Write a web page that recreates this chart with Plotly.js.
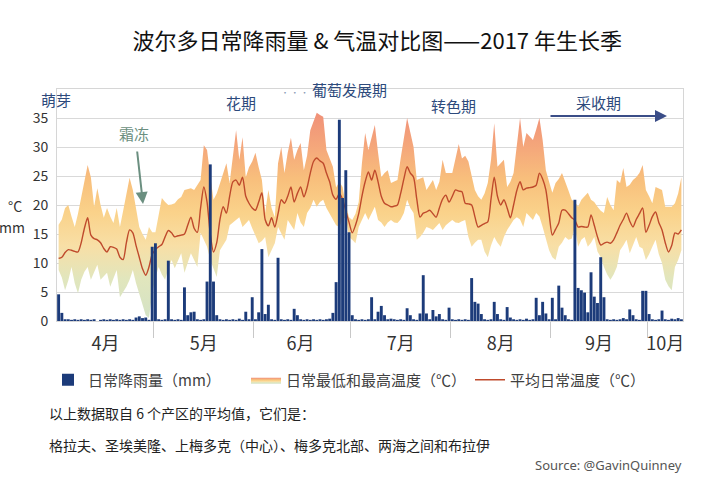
<!DOCTYPE html>
<html><head><meta charset="utf-8">
<script src="https://cdn.plot.ly/plotly-3.0.1.min.js"></script>
<style>html,body{margin:0;padding:0;background:#fff}#chart{width:720px;height:480px}</style>
</head><body><div id="chart"></div>
<script>
// ---- data (2017 growing season, Apr 1 – Oct 11, one value per day) ----
const monthLabels = ['4月','5月','6月','7月','8月','9月','10月'];
const monthMidDays = [14.5, 45, 75, 106, 137, 167.5, 188];
const monthStartDays = [30, 61, 91, 122, 153, 183];
const yTickVals = [0, 5, 10, 15, 20, 25, 30, 35];

const rain = [
4.6,1.4,0.3,0.3,0.2,0.3,0.2,0.3,0.2,0.3,
0.2,0.3,0,0.2,0.3,0.2,0.3,0.2,0.3,0.2,
0.3,0.2,0.3,0.2,0.6,0.8,0.5,0.6,0.2,12.8,
13.4,0.3,0.2,0.3,10.4,0.3,0.2,0.3,0.2,5.8,
1.0,1.5,1.6,0.3,0.2,0.3,6.8,27.0,6.8,1.0,
0.3,0.2,0.3,0.2,0.3,0.2,0.4,0.2,1.6,0.3,
4.1,0.3,1.5,12.4,1.2,2.8,0.3,0.2,10.9,0.3,
0.2,0.3,0.2,2.1,1.0,0.3,0.2,0.3,0.2,0.3,
0.2,0.3,0.2,0.3,0.4,1.4,6.7,34.7,21.2,26.0,
15.3,1.0,0.3,0.2,0.3,0.2,0.3,4.1,0.3,1.6,
2.6,1.0,0.3,0.4,0.3,0.2,0.3,0.2,2.2,1.0,
0.3,0.2,1.3,7.9,1.3,0.3,1.9,0.8,1.2,0.3,
0.2,2.3,0.3,0.2,0.3,0.2,0.3,0.2,7.4,3.3,
3.0,1.2,0.3,0.2,0.3,3.3,1.2,0.3,0.2,2.4,
0.6,0.3,0.2,0.3,0.2,0.4,0.2,0.3,4.0,1.0,
3.3,1.3,0.3,4.0,0.3,6.1,2.3,1.0,0.3,0.2,
20.9,5.7,5.3,4.9,1.5,8.4,4.2,3.1,11.0,4.1,
0.3,0.2,0.3,0.2,0.3,0.5,0.3,2.0,1.0,0.3,
0.2,5.2,5.2,1.2,0.3,0.2,0.3,1.8,0.3,0.2,
0.4,0.3,0.5,0.3];

const tMin = [
8.8,7.5,5.3,7.0,9.3,6.5,4.8,7.1,8.5,9.3,
7.1,8.5,9.7,7.1,7.8,8.3,5.9,7.5,8.8,4.1,
5.0,5.9,7.1,8.8,6.5,4.8,3.0,1.0,0.5,4.8,
7.5,9.3,8.0,7.1,9.0,10.5,9.1,10.5,11.7,8.3,
10.0,11.7,10.5,9.3,15.2,14.0,12.8,10.5,9.0,7.6,
12.2,13.0,14.0,16.5,17.0,17.5,17.9,16.2,16.8,17.4,
16.0,14.8,13.4,13.8,14.5,11.0,12.2,13.4,16.2,15.0,
14.0,17.4,16.5,15.7,18.6,17.0,16.2,18.6,19.5,20.9,
19.7,20.5,20.9,19.5,18.5,17.4,16.5,16.2,17.5,17.9,
14.5,14.0,13.4,16.2,17.5,18.6,17.4,18.5,19.7,17.4,
17.0,16.2,17.0,17.4,17.0,16.9,17.5,18.6,20.9,19.5,
18.6,14.0,14.5,15.2,16.2,16.0,15.7,16.3,16.9,15.7,
16.5,17.0,17.4,17.0,16.9,17.2,17.4,14.5,12.8,13.5,
14.0,14.0,12.0,11.0,13.0,14.5,13.5,12.8,14.5,15.7,
16.5,17.4,17.9,17.5,16.2,18.6,18.0,17.4,18.6,18.0,
16.2,14.0,12.2,11.0,10.5,12.8,13.5,14.5,14.0,14.2,
16.2,12.8,14.0,14.5,12.8,13.5,14.5,12.0,11.0,9.3,
8.0,7.1,8.0,9.3,12.2,13.0,14.0,11.7,13.0,14.5,
12.8,12.5,10.5,11.5,12.8,14.0,11.5,10.0,7.1,6.0,
5.3,9.3,10.5,12.2];

const tMax = [
16.6,17.5,19.5,20.0,18.0,16.2,18.5,21.4,24.5,26.9,
24.8,19.7,22.9,20.0,17.8,19.5,18.0,16.9,19.5,16.2,
19.0,22.0,24.7,22.6,19.0,16.2,15.0,14.0,16.2,15.3,
15.3,18.5,21.2,20.5,20.0,20.1,20.3,21.0,21.4,22.6,
22.8,22.9,22.6,23.5,24.3,30.3,29.5,25.0,20.9,22.0,
23.8,25.5,27.2,23.8,28.0,32.9,27.8,31.7,24.8,26.5,
27.5,29.0,26.5,24.3,18.6,22.6,19.5,17.9,27.2,30.0,
25.5,29.0,31.6,27.8,29.5,30.7,26.0,28.5,32.9,34.5,
35.9,35.5,35.2,29.5,28.0,26.6,23.0,24.0,23.1,20.0,
17.9,17.4,18.5,20.5,27.2,32.4,29.5,31.5,33.8,29.0,
24.8,25.5,26.0,23.8,24.0,24.3,28.0,31.2,35.0,32.5,
30.0,24.3,24.5,24.8,22.6,23.5,24.3,22.6,24.0,27.8,
25.5,25.5,25.5,28.0,30.5,28.0,28.5,27.5,25.0,22.6,
21.5,20.9,22.0,23.8,27.8,34.1,26.6,27.2,27.8,23.1,
24.0,25.5,30.0,35.0,30.0,32.4,31.8,31.2,33.0,35.0,
31.2,26.0,24.0,22.1,23.8,24.5,25.5,23.8,22.5,20.9,
20.5,19.7,20.9,21.5,22.1,20.9,20.5,19.7,19.0,18.6,
21.4,20.0,19.1,24.3,23.8,26.4,23.1,23.5,24.3,24.8,
25.5,26.9,22.6,21.5,20.3,23.1,22.8,22.6,19.7,19.7,
19.7,20.3,22.0,24.8];

const tAvg = [
10.8,11.0,11.8,12.3,12.2,12.0,11.9,13.5,16.0,17.8,
14.8,14.2,14.0,13.5,12.5,11.9,12.8,12.7,12.4,11.0,
10.6,13.5,15.7,15.2,13.0,11.0,9.0,7.9,9.3,11.5,
12.3,12.8,13.2,14.5,15.6,15.2,14.5,14.7,14.8,15.0,
16.5,17.9,16.0,15.3,19.5,23.1,20.5,15.0,11.9,13.5,
17.5,19.7,18.6,21.5,24.0,24.3,23.4,24.8,21.5,20.3,
19.5,19.1,20.5,22.1,17.5,16.4,17.8,16.2,18.5,20.9,
20.3,21.5,23.1,20.5,22.0,23.1,21.4,23.0,25.5,27.5,
28.1,27.6,27.2,25.5,24.0,21.7,21.0,22.0,21.0,19.0,
17.0,15.2,16.5,18.5,21.5,24.0,25.7,24.3,26.0,24.0,
21.5,20.3,20.0,19.7,19.8,20.0,22.0,24.5,26.6,25.5,
24.8,21.0,17.9,18.6,18.8,19.1,18.5,17.9,19.5,21.0,
21.7,20.5,21.5,22.6,22.4,22.3,20.3,20.2,20.0,18.0,
16.2,16.5,16.8,17.1,21.0,24.8,21.5,20.0,20.9,19.5,
17.8,20.0,22.5,24.0,22.6,22.9,23.0,23.1,23.4,25.5,
24.5,22.6,18.5,14.8,15.8,16.9,19.1,19.1,18.5,17.8,
17.4,16.2,16.3,16.2,16.2,18.3,16.5,14.5,13.1,13.4,
13.6,13.4,14.0,15.2,16.5,17.5,18.6,17.2,16.2,17.5,
18.5,19.5,15.3,16.5,18.0,18.8,17.0,15.7,13.5,11.9,
13.0,15.2,15.0,15.7];

const dayIndex = rain.map((_, i) => i);

// ---- chart ----
const FONT = '"Noto Sans CJK SC", "Noto Sans", sans-serif';
const NAVY = '#1c3b7a';

const traces = [
  { x: dayIndex, y: tMin, type: 'scatter', mode: 'lines', line: {width: 0, color: 'rgba(0,0,0,0)'},
    showlegend: false, hoverinfo: 'skip' },
  { x: dayIndex, y: tMax, type: 'scatter', mode: 'lines', line: {width: 0, color: 'rgba(0,0,0,0)'},
    fill: 'tonexty', fillcolor: '#f9cf85',
    fillgradient: {type: 'vertical', start: 0, stop: 36,
      colorscale: [[0, '#d3e2c6'], [0.2, '#e1e6bd'], [0.36, '#f8dfa6'], [0.52, '#fad28a'],
                   [0.68, '#f8bf7c'], [0.82, '#f5a97b'], [1, '#f09078']]},
    name: '日常最低和最高温度（℃）', legend: 'legend2' },
  { x: dayIndex, y: tAvg, type: 'scatter', mode: 'lines',
    line: {color: '#bf4a2c', width: 1.4, shape: 'spline', smoothing: 0.7},
    name: '平均日常温度（℃）', legend: 'legend3' },
  { x: dayIndex, y: rain, type: 'bar', yaxis: 'y2', marker: {color: NAVY, line: {width: 0}},
    name: '日常降雨量（mm）', legend: 'legend' }
];

const px = v => (v - 57) / 626;
const py = v => (321 - v) / 232;
const legendFont = {family: FONT, size: 15, color: '#404040'};
const phaseFont = {family: FONT, size: 15, color: '#2d4a7c'};

function note(text, x, y, font, xanchor) {
  return {text: text, xref: 'paper', yref: 'paper', x: px(x), y: py(y), showarrow: false,
    xanchor: xanchor || 'center', yanchor: 'middle', font: font};
}

const layout = {
  width: 720, height: 480,
  margin: {l: 57, r: 37, t: 89, b: 159},
  paper_bgcolor: '#fff', plot_bgcolor: '#fff',
  font: {family: FONT, color: '#333'},
  title: {text: '波尔多日常降雨量 & 气温对比图——2017 年生长季',
    font: {family: FONT, size: 22, color: '#111'},
    xref: 'container', yref: 'container', x: 0.524, xanchor: 'center', y: 0.914, yanchor: 'middle'},
  bargap: 0.1,
  xaxis: {range: [-0.5, 193.5], tickmode: 'array', tickvals: monthMidDays, ticktext: monthLabels,
    ticks: 'outside', ticklen: 6, tickcolor: 'rgba(0,0,0,0)', tickfont: {family: FONT, size: 18, color: '#333'},
    showgrid: false, zeroline: false, showline: true, mirror: true, linecolor: '#d6d6d6', linewidth: 1,
    minor: {tickmode: 'array', tickvals: monthStartDays.map(d => d - 0.5), ticks: 'outside',
      ticklen: 16, tickcolor: '#c8c8c8', tickwidth: 1, showgrid: false},
    fixedrange: true},
  yaxis: {range: [0, 40], tickmode: 'array', tickvals: yTickVals, ticks: 'outside', ticklen: 5,
    tickcolor: 'rgba(0,0,0,0)', tickfont: {family: FONT, size: 14, color: '#333'},
    showgrid: true, gridcolor: '#d9d9d9', gridwidth: 1, zeroline: false,
    showline: true, mirror: true, linecolor: '#d6d6d6', fixedrange: true},
  yaxis2: {range: [0, 40], overlaying: 'y', visible: false, fixedrange: true},
  legend: {orientation: 'h', x: px(48), xanchor: 'left', y: py(380), yanchor: 'middle', font: legendFont, bgcolor: 'rgba(0,0,0,0)'},
  legend2: {orientation: 'h', x: px(246), xanchor: 'left', y: py(380), yanchor: 'middle', font: legendFont, bgcolor: 'rgba(0,0,0,0)'},
  legend3: {orientation: 'h', x: px(470), xanchor: 'left', y: py(380), yanchor: 'middle', font: legendFont, bgcolor: 'rgba(0,0,0,0)'},
  annotations: [
    note('萌芽', 56, 99, phaseFont),
    note('花期', 241, 103, phaseFont),
    note('<span style="font-size:8px;color:#8a9ab5">· · ·</span> 葡萄发展期', 334, 89, phaseFont),
    note('转色期', 453, 105, phaseFont),
    note('采收期', 598, 102, phaseFont),
    {text: '', xref: 'paper', yref: 'paper', x: px(667), y: py(116), ax: -118, ay: 0, showarrow: true,
      arrowhead: 2, arrowsize: 1.2, arrowwidth: 2, arrowcolor: '#3a4d87'},
    note('霜冻', 134, 133, {family: FONT, size: 15, color: '#6b8f80'}),
    {text: '', xref: 'paper', yref: 'paper', x: px(143), y: py(204), ax: -6, ay: -54, showarrow: true,
      arrowhead: 2, arrowsize: 1.2, arrowwidth: 2, arrowcolor: '#6b8f80'},
    note('°C', 15, 206, {family: FONT, size: 14, color: '#333'}),
    note('mm', 12, 227, {family: FONT, size: 14, color: '#333'}),
    note('以上数据取自 6 个产区的平均值，它们是：', 47, 413, {family: FONT, size: 14, color: '#222'}, 'left'),
    note('格拉夫、圣埃美隆、上梅多克（中心）、梅多克北部、两海之间和布拉伊', 47, 445, {family: FONT, size: 14, color: '#222'}, 'left'),
    note('Source: @GavinQuinney', 684, 465, {family: '"Noto Sans", sans-serif', size: 13, color: '#555'}, 'right')
  ]
};

Plotly.newPlot('chart', traces, layout, {displayModeBar: false, staticPlot: true});
</script>
</body></html>
